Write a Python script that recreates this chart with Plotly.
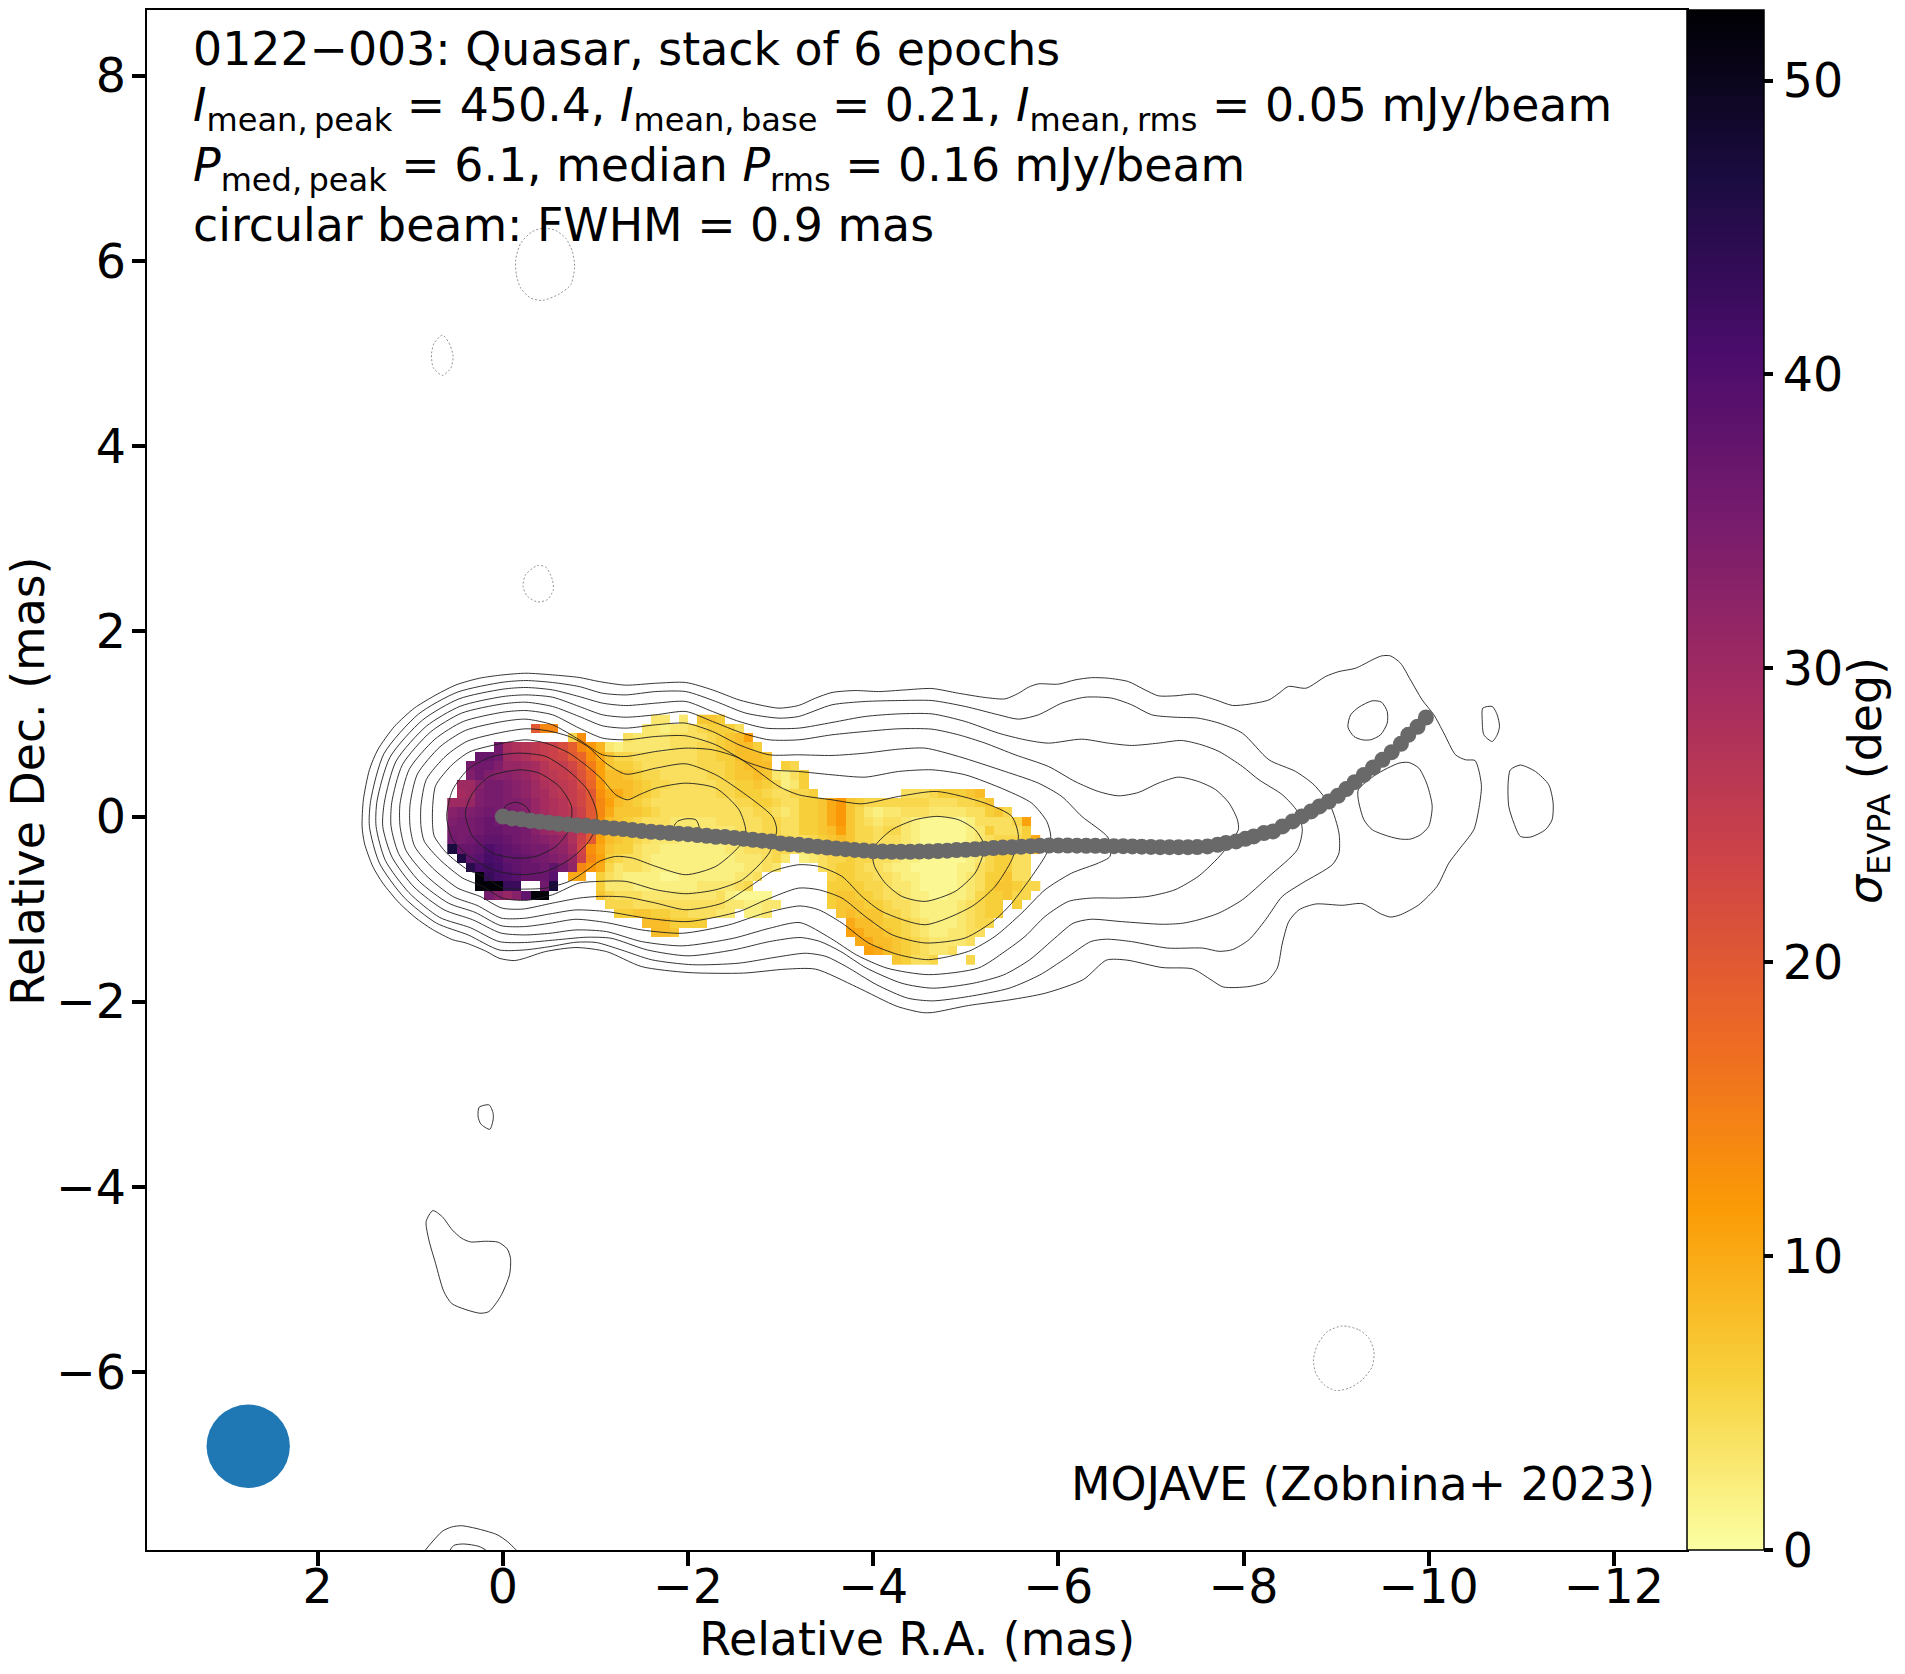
import plotly.graph_objects as go

# ---- sigma EVPA map, one dict per row: {first column: [values in deg]}
sigma_rows = [
    {22: [3, 3], 25: [3], 27: [7, 7, 6]},
    {9: [20, 14, 14], 21: [3, 3, 2, 3, 3, 4, 5, 6, 6, 6, 4]},
    {13: [5, 13], 19: [4, 3, 3, 3, 3, 4, 4, 4, 4, 5, 6, 7, 8, 11]},
    {5: [36, 29, 28, 27, 26, 25, 24, 22, 19, 14, 12, 9, 3, 2, 3, 3, 3, 3, 3, 4, 4, 4, 5, 5, 6, 7, 8, 8, 6]},
    {3: [37, 37, 36, 30, 29, 28, 26, 25, 24, 23, 20, 18, 13, 10, 7, 5, 5, 4, 4, 4, 4, 4, 4, 4, 5, 5, 6, 6, 8, 8, 8, 7]},
    {2: [35, 36, 36, 34, 31, 31, 30, 29, 27, 25, 25, 23, 20, 15, 11, 7, 6, 6, 5, 4, 4, 4, 4, 4, 4, 5, 5, 5, 6, 7, 8, 8, 8], 36: [6, 5]},
    {2: [34, 36, 34, 33, 33, 32, 31, 29, 27, 26, 25, 24, 21, 17, 11, 8, 8, 7, 6, 5, 5, 4, 4, 4, 4, 4, 5, 5, 6, 7, 7, 8, 7, 3, 2, 4, 6]},
    {1: [30, 30, 33, 35, 35, 34, 33, 32, 30, 28, 27, 26, 25, 22, 18, 12, 8, 8, 8, 7, 6, 5, 5, 4, 4, 4, 4, 4, 5, 5, 6, 6, 7, 6, 5, 2, 3, 6]},
    {1: [29, 30, 34, 35, 35, 34, 33, 32, 30, 29, 27, 26, 25, 23, 20, 13, 10, 10, 8, 7, 6, 5, 4, 4, 4, 4, 4, 4, 5, 5, 6, 6, 6, 5, 4, 4, 5, 5, 6],
     49: [4, 4, 4, 5, 6, 6, 6, 7, 8]},
    {0: [30, 30, 31, 34, 35, 35, 34, 34, 33, 31, 29, 28, 27, 25, 23, 20, 14,
         11, 8, 7, 6, 5, 4, 4, 4, 4, 4, 4, 4, 4, 4, 5, 5, 6, 6, 5, 4, 4,
         6, 6, 7, 10, 12, 7, 6, 5, 5, 5, 5, 5, 5, 5, 4, 4, 4, 5, 5, 6, 7]},
    {0: [33, 34, 34, 35, 36, 35, 35, 34, 33, 31, 29, 28, 27, 26, 24, 20, 14,
         10, 7, 7, 7, 6, 5, 4, 4, 4, 4, 4, 4, 4, 4, 4, 4, 5, 5, 4, 3, 4,
         6, 6, 7, 10, 12, 7, 5, 3, 2, 3, 3, 4, 4, 4, 3, 3, 3, 3, 4, 4, 6, 7, 5]},
    {0: [34, 35, 35, 36, 37, 36, 36, 35, 34, 32, 30, 29, 28, 27, 25, 20, 13,
         8, 7, 6, 5, 4, 4, 4, 3, 3, 3, 3, 3, 4, 4, 4, 4, 4, 5, 5, 4, 4,
         6, 6, 7, 10, 12, 7, 5, 4, 3, 4, 4, 3, 2, 1, 1, 1, 1, 1, 2, 4, 4, 4, 4, 5, 11]},
    {0: [35, 35, 35, 36, 37, 37, 36, 36, 35, 33, 31, 30, 29, 28, 25, 20, 12,
         8, 7, 6, 5, 4, 4, 3, 3, 3, 3, 3, 3, 3, 3, 4, 4, 4, 5, 5, 4, 4,
         6, 6, 7, 8, 11, 7, 5, 5, 4, 5, 5, 3, 2, 1, 1, 1, 1, 1, 2, 3, 6, 4, 4, 4, 6]},
    {0: [36, 35, 36, 37, 38, 38, 37, 36, 35, 34, 33, 32, 31, 28, 24, 20, 11,
         8, 7, 6, 5, 4, 3, 3, 3, 2, 2, 2, 2, 3, 3, 3, 4, 4, 4, 5, 5, 4,
         4, 5, 6, 7, 8, 7, 5, 5, 4, 4, 4, 3, 2, 1, 1, 1, 1, 1, 2, 3, 4, 5, 5, 5, 6, 10]},
    {0: [47, 37, 37, 38, 40, 39, 38, 37, 36, 35, 35, 33, 32, 29, 23, 13, 10,
         7, 6, 6, 4, 3, 3, 2, 2, 2, 2, 2, 2, 2, 3, 3, 4, 4, 4, 5, 5, 4,
         3, 4, 5, 6, 7, 7, 5, 5, 4, 4, 3, 2, 2, 1, 1, 1, 1, 1, 2, 3, 5, 5, 5, 4, 4, 8]},
    {1: [46, 38, 39, 41, 40, 38, 38, 37, 36, 35, 34, 33, 31, 24, 14, 11,
         6, 5, 4, 4, 3, 2, 2, 2, 2, 2, 2, 2, 2, 2, 3, 3, 3, 4, 5, 3],
     38: [2, 3, 4, 5, 5, 6, 5, 5, 4, 4, 3, 2, 2, 1, 1, 1, 1, 1, 2, 3, 5, 6, 6, 4, 4]},
    {2: [45, 41, 42, 41, 39, 38, 37, 37, 36, 38, 35, 32, 14, 12, 10,
         5, 3, 4, 4, 3, 2, 2, 2, 2, 2, 2, 2, 2, 2, 2, 3, 3, 4, 3],
     40: [4, 5, 6, 6, 5, 4, 4, 3, 2, 2, 1, 1, 1, 1, 1, 2, 2, 4, 5, 6, 6, 4, 4]},
    {3: [52, 43, 41, 40, 39, 37, 37, 37, 39], 13: [10, 10],
     16: [6, 4, 3, 2, 2, 2, 2, 1, 1, 2, 2, 2, 2, 2, 2, 3, 3, 4],
     41: [5, 6, 6, 5, 5, 4, 4, 3, 2, 2, 1, 1, 1, 1, 2, 3, 4, 6, 6, 7, 4, 4]},
    {3: [52, 52, 52, 43, 43], 10: [36, 47],
     16: [6, 3, 3, 3, 2, 2, 2, 2, 2, 2, 2, 3, 3, 3, 3, 4, 5],
     41: [6, 6, 6, 6, 5, 5, 4, 3, 3, 2, 1, 1, 1, 1, 2, 3, 4, 6, 7, 7, 6, 5, 5]},
    {4: [35, 33, 31, 33, 38, 52, 52],
     16: [7, 5, 4, 4, 4, 3, 3, 3, 3, 3, 3, 3, 3, 4, 2, 1, 1, 1, 1],
     41: [6, 7, 7, 6, 6, 5, 4, 4, 3, 2, 2, 1, 1, 2, 2, 3, 5, 6, 6, 7, 5, 5]},
    {17: [5, 5, 5, 4, 4, 4, 4, 4, 4, 4, 4, 4, 4, 3, 3, 2, 2, 3, 3],
     41: [6, 7, 7, 7, 6, 6, 5, 4, 4, 3, 2, 2, 2, 2, 3, 4, 5, 6, 6], 61: [6]},
    {18: [6, 6, 7, 7, 6, 6, 5, 5, 4, 4, 4, 3, 3], 32: [2, 2, 3],
     42: [7, 8, 7, 7, 7, 5, 5, 4, 3, 2, 2, 2, 2, 3, 4, 5, 6, 6]},
    {21: [8, 8, 8, 6, 6, 6, 6], 43: [10, 8, 8, 7, 6, 6, 5, 4, 3, 2, 2, 2, 3, 4, 5, 5]},
    {22: [8, 8, 7], 43: [11, 10, 8, 8, 7, 6, 5, 4, 3, 2, 2, 3, 3, 4, 4]},
    {44: [10, 10, 8, 8, 7, 6, 5, 4, 3, 3, 3, 3, 4]},
    {45: [11, 10, 8, 7, 6, 5, 4, 3, 3, 4]},
    {48: [7, 6, 4, 4, 5], 56: [5]},
]
map_ra = [0.55 - 0.1 * k for k in range(64)]
map_dec = [1.05 - 0.1 * j for j in range(27)]

# ---- total intensity contours (R.A., Dec.) in mas
level0 = [(0, 1.53), (-.249, 1.548), (-.537, 1.53), (-.825, 1.502), (-1.041, 1.458), (-1.328, 1.419), (-1.652, 1.44),
          (-1.976, 1.448), (-2.264, 1.368), (-2.551, 1.26), (-2.767, 1.207), (-2.983, 1.171), (-3.195, 1.2), (-3.375, 1.278),
          (-3.555, 1.34), (-3.806, 1.361), (-4.058, 1.35), (-4.346, 1.368), (-4.634, 1.383), (-4.92, 1.332), (-5.21, 1.286),
          (-5.425, 1.271), (-5.57, 1.332), (-5.677, 1.397), (-5.785, 1.433), (-6.0, 1.43), (-6.18, 1.476), (-6.36, 1.5),
          (-6.54, 1.494), (-6.756, 1.458), (-6.936, 1.368), (-7.08, 1.304), (-7.26, 1.304), (-7.476, 1.322), (-7.70, 1.26),
          (-7.88, 1.2), (-8.06, 1.214), (-8.275, 1.26), (-8.383, 1.332), (-8.484, 1.405), (-8.678, 1.387), (-8.887, 1.513),
          (-9.03, 1.566), (-9.21, 1.602), (-9.39, 1.692), (-9.49, 1.735), (-9.588, 1.735), (-9.696, 1.656), (-9.804, 1.475),
          (-9.93, 1.26), (-10.056, 1.099), (-10.164, .901), (-10.29, .667), (-10.398, .613), (-10.5, .606), (-10.54, .505),
          (-10.57, .325), (-10.54, .074), (-10.487, -.142), (-10.326, -.358), (-10.218, -.502), (-10.09, -.754), (-9.894, -.952),
          (-9.696, -1.06), (-9.588, -1.085), (-9.48, -1.049), (-9.283, -.94), (-9.067, -.958), (-8.78, -.944), (-8.6, -1.006),
          (-8.49, -1.131), (-8.42, -1.365), (-8.365, -1.635), (-8.25, -1.78), (-8.06, -1.835), (-7.78, -1.84), (-7.65, -1.763),
          (-7.45, -1.645), (-7.12, -1.63), (-6.74, -1.55), (-6.52, -1.55), (-6.27, -1.76), (-5.86, -1.907), (-5.47, -1.98),
          (-5.03, -2.04), (-4.64, -2.116), (-4.53, -2.116), (-4.26, -2.05), (-3.82, -1.84), (-3.38, -1.648), (-3.05, -1.648),
          (-2.6, -1.69), (-2.0, -1.684), (-1.5, -1.62), (-1.12, -1.458), (-.79, -1.414), (-.46, -1.458), (-.235, -1.53),
          (-.125, -1.555), (.04, -1.53), (.18, -1.455), (.398, -1.365), (.542, -1.33), (.758, -1.22), (.938, -1.096),
          (1.118, -.934), (1.297, -.718), (1.405, -.538), (1.495, -.286), (1.52, -.106), (1.506, .181), (1.441, .505),
          (1.351, .721), (1.171, .973), (.956, 1.171), (.722, 1.314), (.506, 1.422), (.254, 1.494)]
level1 = [(0, 1.451), (-.249, 1.469), (-.537, 1.448), (-.825, 1.404), (-1.077, 1.332), (-1.328, 1.314), (-1.652, 1.35),
          (-1.976, 1.35), (-2.3, 1.243), (-2.624, 1.117), (-2.983, 1.063), (-3.195, 1.081), (-3.555, 1.207), (-3.914, 1.243),
          (-4.274, 1.253), (-4.634, 1.253), (-4.994, 1.189), (-5.353, 1.099), (-5.569, 1.052), (-5.785, 1.099), (-6.037, 1.225),
          (-6.288, 1.289), (-6.576, 1.279), (-6.792, 1.207), (-7.008, 1.099), (-7.26, 1.073), (-7.51, 1.063), (-7.736, 1.009),
          (-7.988, .901), (-8.275, .613), (-8.563, .487), (-8.761, .343), (-8.941, .11), (-9.031, -.178), (-9.031, -.394),
          (-8.959, -.52), (-8.635, -.718), (-8.419, -.862), (-8.239, -1.113), (-8.06, -1.329), (-7.88, -1.437), (-7.736, -1.455),
          (-7.56, -1.42), (-7.18, -1.42), (-6.79, -1.35), (-6.52, -1.324), (-6.35, -1.35), (-6.08, -1.53), (-5.8, -1.71),
          (-5.47, -1.853), (-5.03, -1.943), (-4.64, -1.99), (-4.37, -1.96), (-4.04, -1.817), (-3.71, -1.62), (-3.49, -1.51),
          (-3.27, -1.476), (-2.94, -1.52), (-2.55, -1.583), (-2.05, -1.6), (-1.61, -1.547), (-1.28, -1.44), (-1.01, -1.36),
          (-.79, -1.357), (-.51, -1.404), (-.235, -1.44), (.04, -1.44), (.373, -1.279), (.718, -1.15), (1.064, -.876),
          (1.333, -.502), (1.441, -.106), (1.427, .174), (1.283, .681), (.912, 1.106), (.492, 1.343)]
level2 = [(0, 1.376), (-.249, 1.394), (-.537, 1.368), (-.825, 1.296), (-1.077, 1.225), (-1.328, 1.199), (-1.652, 1.225),
          (-1.976, 1.243), (-2.264, 1.135), (-2.551, 1.027), (-2.84, .955), (-3.195, .955), (-3.555, 1.016), (-3.914, 1.081),
          (-4.274, 1.109), (-4.634, 1.109), (-4.994, 1.027), (-5.353, .901), (-5.641, .829), (-5.893, .793), (-6.253, .836),
          (-6.54, .793), (-6.792, .768), (-7.08, .793), (-7.33, .822), (-7.547, .775), (-7.736, .703), (-7.988, .541),
          (-8.167, .397), (-8.419, .236), (-8.581, .056), (-8.635, -.142), (-8.581, -.358), (-8.275, -.646), (-7.988, -.898),
          (-7.736, -1.041), (-7.52, -1.113), (-7.34, -1.152), (-7.12, -1.163), (-6.68, -1.134), (-6.35, -1.109), (-6.16, -1.152),
          (-5.94, -1.332), (-5.69, -1.547), (-5.41, -1.709), (-5.08, -1.8), (-4.64, -1.853), (-4.31, -1.8), (-3.93, -1.637),
          (-3.65, -1.458), (-3.43, -1.35), (-3.21, -1.306), (-2.88, -1.35), (-2.49, -1.44), (-2.0, -1.504), (-1.56, -1.44),
          (-1.17, -1.314), (-.9, -1.303), (-.57, -1.332), (-.235, -1.36), (.04, -1.35), (.351, -1.2), (.682, -1.089),
          (1.013, -.822), (1.269, -.473), (1.369, -.106), (1.359, .167), (1.218, .642), (.869, 1.041), (.474, 1.271)]
level3 = [(0, 1.296), (-.249, 1.314), (-.537, 1.289), (-.825, 1.189), (-1.077, 1.099), (-1.328, 1.073), (-1.652, 1.099),
          (-1.976, 1.135), (-2.264, 1.027), (-2.588, .901), (-2.876, .829), (-3.195, .829), (-3.555, .883), (-3.914, .919),
          (-4.274, .948), (-4.634, .944), (-4.922, .883), (-5.209, .793), (-5.533, .667), (-5.893, .541), (-6.18, .379),
          (-6.432, .271), (-6.648, .224), (-6.864, .26), (-7.08, .361), (-7.296, .426), (-7.512, .379), (-7.7, .29),
          (-7.844, .146), (-7.934, -.034), (-7.944, -.142), (-7.772, -.394), (-7.52, -.639), (-7.26, -.79), (-6.97, -.862),
          (-6.648, -.88), (-6.36, -.88), (-6.11, -.916), (-5.857, -1.078), (-5.64, -1.294), (-5.425, -1.455), (-5.137, -1.635),
          (-4.598, -1.707), (-4.15, -1.637), (-3.82, -1.494), (-3.54, -1.314), (-3.21, -1.145), (-2.88, -1.206), (-2.49, -1.314),
          (-1.94, -1.396), (-1.5, -1.35), (-1.12, -1.242), (-.79, -1.224), (-.51, -1.26), (-.235, -1.278), (.024, -1.257),
          (.326, -1.114), (.636, -1.006), (.959, -.761), (1.197, -.437), (1.297, -.106), (1.279, .156), (1.153, .599),
          (.826, .976), (.459, 1.192)]
level4 = [(0, 1.217), (-.249, 1.235), (-.537, 1.189), (-.825, 1.081), (-1.077, .98), (-1.328, .955), (-1.652, .991),
          (-1.976, 1.009), (-2.264, .919), (-2.551, .775), (-2.876, .667), (-3.195, .667), (-3.555, .66), (-3.914, .685),
          (-4.274, .728), (-4.562, .739), (-4.922, .649), (-5.425, .487), (-5.785, .361), (-6.037, .217), (-6.253, .002),
          (-6.54, -.232), (-6.558, -.43), (-6.432, -.502), (-6.145, -.61), (-5.857, -.79), (-5.605, -1.042), (-5.317, -1.293),
          (-5.03, -1.455), (-4.598, -1.545), (-4.274, -1.491), (-3.95, -1.365), (-3.663, -1.15), (-3.411, -1.006), (-3.21, -.965),
          (-2.825, -1.044), (-2.44, -1.17), (-1.94, -1.26), (-1.5, -1.224), (-1.12, -1.145), (-.79, -1.109), (-.51, -1.152),
          (-.235, -1.188), (.02, -1.178), (.301, -1.034), (.589, -.934), (.902, -.7), (1.125, -.401), (1.207, -.106), (1.2, .149),
          (1.085, .559), (.783, .912), (.445, 1.117)]
level5 = [(0, 1.127), (-.249, 1.145), (-.537, 1.099), (-.825, .955), (-1.077, .847), (-1.328, .829), (-1.652, .865),
          (-1.976, .872), (-2.3, .775), (-2.624, .595), (-2.911, .505), (-3.195, .487), (-3.555, .451), (-3.914, .426),
          (-4.274, .487), (-4.634, .505), (-4.994, .451), (-5.425, .289), (-5.713, .145), (-5.875, -.052), (-5.918, -.214),
          (-5.875, -.394), (-5.713, -.646), (-5.497, -.934), (-5.317, -1.114), (-4.994, -1.311), (-4.562, -1.365), (-4.202, -1.275),
          (-3.914, -1.078), (-3.663, -.88), (-3.411, -.79), (-3.195, -.772), (-2.84, -.9), (-2.55, -1.026), (-2.0, -1.134),
          (-1.56, -1.098), (-1.12, -1.026), (-.79, -1.008), (-.51, -1.051), (-.235, -1.098), (.017, -1.096), (.279, -.959),
          (.542, -.862), (.837, -.628), (1.046, -.365), (1.11, -.106), (1.11, .142), (1.01, .512), (.733, .836), (.427, 1.027)]
level6 = [(0, 1.027), (-.249, 1.052), (-.537, .991), (-.825, .829), (-1.077, .667), (-1.328, .649), (-1.652, .703),
          (-1.976, .739), (-2.264, .721), (-2.551, .631), (-2.983, .325), (-3.195, .235), (-3.555, .181), (-3.878, .138),
          (-4.274, .217), (-4.688, .271), (-5.209, .145), (-5.497, .002), (-5.569, -.214), (-5.497, -.466), (-5.317, -.754),
          (-5.066, -.97), (-4.562, -1.168), (-4.094, -1.024), (-3.878, -.862), (-3.663, -.646), (-3.411, -.538), (-3.195, -.52),
          (-2.911, -.592), (-2.696, -.736), (-2.372, -.934), (-1.976, -1.006), (-1.652, -.934), (-1.328, -.869), (-1.041, -.862),
          (-.825, -.88), (-.537, -.934), (-.213, -.999), (.01, -.988), (.247, -.862), (.488, -.772), (.758, -.556), (.952, -.322),
          (1.002, -.106), (1.002, .131), (.923, .458), (.679, .753), (.405, .93)]
level7 = [(0, .912), (-.249, .948), (-.465, .93), (-.717, .865), (-.915, .757), (-1.113, .577), (-1.328, .458), (-1.652, .523),
          (-1.976, .57), (-2.3, .451), (-2.551, .289), (-2.911, .002), (-2.958, -.142), (-2.876, -.394), (-2.588, -.682),
          (-2.3, -.79), (-1.976, -.833), (-1.652, -.79), (-1.328, -.7), (-1.041, -.7), (-.825, -.718), (-.537, -.844),
          (-.249, -.905), (.006, -.88), (.218, -.754), (.434, -.664), (.679, -.466), (.848, -.268), (.884, -.106), (.884, .12),
          (.826, .401), (.614, .656), (.384, .814)]
level7_east = [(-4.688, .002), (-4.922, -.034), (-5.101, -.142), (-5.191, -.286), (-5.191, -.394), (-5.101, -.61), (-4.886, -.808),
               (-4.562, -.916), (-4.31, -.862), (-4.13, -.718), (-4.015, -.538), (-3.994, -.43), (-4.03, -.304), (-4.202, -.142),
               (-4.454, -.034)]
level8 = [(0, .793), (-.249, .829), (-.465, .793), (-.717, .685), (-.915, .541), (-1.077, .397), (-1.221, .235), (-1.347, .181),
          (-1.472, .235), (-1.652, .307), (-1.976, .361), (-2.3, .307), (-2.551, .073), (-2.624, -.16), (-2.551, -.322),
          (-2.3, -.538), (-1.976, -.628), (-1.652, -.538), (-1.401, -.448), (-1.221, -.43), (-1.041, -.484), (-.915, -.574),
          (-.717, -.7), (-.465, -.772), (-.249, -.783), (0, -.772), (.19, -.653), (.38, -.574), (.607, -.394), (.74, -.214),
          (.758, -.106), (.758, .109), (.725, .336), (.549, .559), (.359, .699)]
level9 = [(-.177, .685), (-.465, .649), (-.717, .487), (-.915, .289), (-1.012, .055), (-1.012, -.106), (-.915, -.286),
          (-.717, -.466), (-.465, -.592), (-.177, -.628), (.11, -.574), (.362, -.43), (.542, -.25), (.607, .002), (.542, .289),
          (.362, .523), (.11, .649)]
level9_east = [(-1.85, -.106), (-1.886, -.052), (-1.976, -.024), (-2.084, -.034), (-2.12, -.124), (-2.012, -.196), (-1.904, -.178)]
level10 = [(-.177, .505), (-.393, .469), (-.609, .325), (-.742, .109), (-.717, -.142), (-.573, -.322), (-.357, -.43),
           (-.141, -.448), (.11, -.394), (.326, -.214), (.405, .037), (.326, .253), (.146, .433)]
level11 = [(-.023, .109), (-.141, .156), (-.249, .109), (-.293, .037), (-.249, -.052), (-.105, -.07), (0, -.016)]

hole_a = [(-9.39, 1.25), (-9.49, 1.236), (-9.552, 1.135), (-9.552, 1.009), (-9.48, .883), (-9.372, .829), (-9.283, .829),
          (-9.193, .865), (-9.128, .966), (-9.157, 1.099), (-9.247, 1.182)]
hole_b = [(-9.786, .584), (-9.894, .523), (-9.984, .343), (-10.038, .11), (-10.0, -.106), (-9.912, -.196), (-9.804, -.243),
          (-9.696, -.243), (-9.57, -.214), (-9.39, -.142), (-9.3, -.034), (-9.24, .182), (-9.24, .29), (-9.427, .451), (-9.678, .577)]
island_c = [(-10.585, 1.171), (-10.686, 1.189), (-10.74, 1.099), (-10.765, .973), (-10.74, .883), (-10.686, .811), (-10.596, .883),
            (-10.578, 1.045)]
island_d = [(-10.99, .556), (-11.153, .487), (-11.297, .343), (-11.344, .146), (-11.333, -.034), (-11.26, -.142), (-11.1, -.221),
            (-10.99, -.214), (-10.92, -.07), (-10.865, .11), (-10.858, .361), (-10.883, .505)]
island_e = [(.756, -4.255), (.655, -4.32), (.547, -4.463), (.446, -4.553), (.349, -4.593), (.187, -4.586), (.05, -4.596),
            (-.047, -4.668), (-.083, -4.769), (-.072, -4.949), (.025, -5.183), (.151, -5.345), (.248, -5.363), (.547, -5.262),
            (.637, -5.129), (.727, -4.823), (.799, -4.571), (.828, -4.373)]
island_f = [(.256, -3.139), (.148, -3.114), (.105, -3.204), (.105, -3.276), (.141, -3.377), (.238, -3.319), (.267, -3.24)]
edge_low0 = [(.853, -7.94), (.655, -7.719), (.554, -7.672), (.446, -7.658), (.259, -7.694), (.061, -7.755), (-.047, -7.827), (-.165, -7.94)]
edge_low1 = [(.583, -7.94), (.529, -7.87), (.421, -7.855), (.259, -7.881), (.151, -7.94)]

neg_top = [(-.445, 6.354), (-.571, 6.329), (-.679, 6.246), (-.751, 6.102), (-.776, 5.94), (-.733, 5.743), (-.607, 5.642),
           (-.427, 5.574), (-.301, 5.599), (-.193, 5.707), (-.146, 5.851), (-.139, 6.012), (-.193, 6.192), (-.319, 6.318)]
neg_left = [(.652, 5.199), (.58, 5.113), (.537, 4.969), (.562, 4.843), (.652, 4.764), (.749, 4.843), (.771, 4.987), (.742, 5.113)]
neg_mid = [(-.373, 2.71), (-.463, 2.696), (-.535, 2.559), (-.546, 2.451), (-.481, 2.343), (-.373, 2.318), (-.265, 2.379),
           (-.218, 2.487), (-.247, 2.613)]
neg_low = [(-9.068, -5.5), (-9.248, -5.543), (-9.355, -5.633), (-9.409, -5.777), (-9.391, -5.938), (-9.283, -6.082), (-9.14, -6.172),
           (-8.996, -6.198), (-8.87, -6.136), (-8.78, -6.01), (-8.755, -5.867), (-8.798, -5.705), (-8.906, -5.561)]

# ---- jet ridge line
ridge_ra = [0, -.1, -.2, -.3, -.4, -.5, -.6, -.7, -.8, -.9, -1.0, -1.1, -1.2, -1.3, -1.4, -1.5, -1.6, -1.7, -1.8, -1.9,
            -2.0, -2.1, -2.2, -2.3, -2.4, -2.5, -2.6, -2.7, -2.8, -2.9, -3.0, -3.1, -3.2, -3.3, -3.4, -3.5, -3.6, -3.7, -3.8, -3.9,
            -4.0, -4.1, -4.2, -4.3, -4.4, -4.5, -4.6, -4.7, -4.8, -4.9, -5.0, -5.1, -5.2, -5.3, -5.4, -5.5, -5.6, -5.7, -5.8, -5.9,
            -6.0, -6.1, -6.2, -6.3, -6.4, -6.5, -6.6, -6.7, -6.8, -6.9, -7.0, -7.1, -7.2, -7.3, -7.4, -7.5, -7.61, -7.72, -7.81, -7.92,
            -8.02, -8.11, -8.22, -8.32, -8.42, -8.53, -8.63, -8.73, -8.82, -8.92, -9.02, -9.11, -9.2, -9.3, -9.4, -9.5, -9.6, -9.7, -9.78, -9.88, -9.97]
ridge_dec = [0, -.02, -.03, -.045, -.056, -.066, -.078, -.085, -.095, -.1, -.11, -.12, -.128, -.135, -.146, -.157, -.164, -.171, -.178, -.185,
             -.19, -.2, -.207, -.218, -.22, -.23, -.24, -.25, -.26, -.27, -.29, -.3, -.305, -.315, -.325, -.335, -.345, -.352, -.36, -.367,
             -.375, -.378, -.38, -.38, -.38, -.378, -.376, -.372, -.368, -.362, -.358, -.353, -.347, -.34, -.335, -.33, -.325, -.32, -.315, -.312,
             -.312, -.312, -.314, -.315, -.316, -.318, -.32, -.32, -.322, -.325, -.328, -.33, -.33, -.33, -.33, -.329, -.322, -.304, -.286, -.268,
             -.24, -.214, -.178, -.16, -.106, -.052, .002, .056, .11, .163, .225, .297, .372, .45, .53, .613, .696, .786, .883, .97, 1.07]

beam_ra, beam_dec, beam_fwhm = 2.75, -6.8, 0.9

solid_contours = [level0, level1, level2, level3, level4, level5, level6, level7, level7_east, level8, level9, level9_east,
                  level10, level11, hole_a, hole_b, island_c, island_d, island_e, island_f]
open_contours = [edge_low0, edge_low1]
negative_contours = [neg_top, neg_left, neg_mid, neg_low]

header_lines = ["0122\u2212003: Quasar, stack of 6 epochs",
                "<i>I</i><sub>mean,\u2009peak</sub> = 450.4, <i>I</i><sub>mean,\u2009base</sub> = 0.21, <i>I</i><sub>mean,\u2009rms</sub> = 0.05 mJy/beam",
                "<i>P</i><sub>med,\u2009peak</sub> = 6.1, median <i>P</i><sub>rms</sub> = 0.16 mJy/beam",
                "circular beam: FWHM = 0.9 mas"]
header_dec = [8.285, 7.645, 7.0, 6.39]

FONT = "DejaVu Sans"
FS = 45.8
TICK_FS = 47.5

# page has an 8 px body margin, hence the odd numbers here
W, H = 1889, 1658
dom_x = [139.3 / W, 1679 / W]
dom_y = [(H - 1542) / H, (H - 2) / H]

fig = go.Figure()

z = []
for row in sigma_rows:
    cells = [None] * len(map_ra)
    for start, vals in row.items():
        cells[start:start + len(vals)] = vals
    z.append(cells)

fig.add_trace(go.Heatmap(x=map_ra, y=map_dec, z=z, zmin=0, zmax=52.4, colorscale="Inferno_r", hoverongaps=False,
                         colorbar=dict(x=dom_x[1], xanchor="left", xpad=0, y=dom_y[0], yanchor="bottom", ypad=0,
                                       len=dom_y[1] - dom_y[0], lenmode="fraction", thickness=77, thicknessmode="pixels",
                                       outlinewidth=1.5, outlinecolor="black", tick0=0, dtick=10, ticks="outside",
                                       ticklen=9, tickwidth=3.5, tickcolor="black", tickfont=dict(family=FONT, size=TICK_FS))))


def draw_contour(pts, closed=True, **line_kwargs):
    if closed:
        pts = pts + pts[:1]
    fig.add_trace(go.Scatter(x=[p[0] for p in pts], y=[p[1] for p in pts], mode="lines", line=line_kwargs,
                             hoverinfo="skip", showlegend=False))


for c in solid_contours:
    draw_contour(c, color="rgb(30,30,30)", width=0.9, shape="spline", smoothing=0.7)
for c in open_contours:
    draw_contour(c, closed=False, color="rgb(30,30,30)", width=0.9, shape="spline", smoothing=0.7)
for c in negative_contours:
    draw_contour(c, color="rgb(120,120,120)", width=0.8, shape="spline", smoothing=0.7, dash="2px,2px")

fig.add_trace(go.Scatter(x=ridge_ra, y=ridge_dec, mode="markers", marker=dict(size=16, color="#696969", line=dict(width=0)),
                         showlegend=False))

# restoring beam
fig.add_shape(type="circle", xref="x", yref="y", x0=beam_ra - beam_fwhm / 2, x1=beam_ra + beam_fwhm / 2,
              y0=beam_dec - beam_fwhm / 2, y1=beam_dec + beam_fwhm / 2, fillcolor="#1f77b4", line=dict(width=0))

for txt, dec in zip(header_lines, header_dec):
    fig.add_annotation(text=txt, x=3.37, y=dec, xanchor="left", yanchor="middle", showarrow=False,
                       font=dict(family=FONT, size=FS, color="black"))
fig.add_annotation(text="MOJAVE (Zobnina+ 2023)", x=-12.466, y=-7.21, xanchor="right", yanchor="middle", showarrow=False,
                   font=dict(family=FONT, size=FS, color="black"))

# colorbar and y labels placed by hand, the built-in titles sit in the wrong spot without automargin
fig.add_annotation(text="<i>\u03c3</i><sub>EVPA</sub> (deg)", xref="paper", yref="paper", x=0.9849, y=0.534,
                   xanchor="center", yanchor="middle", textangle=-90, showarrow=False,
                   font=dict(family=FONT, size=FS, color="black"))
fig.add_annotation(text="Relative Dec. (mas)", xref="paper", yref="paper", x=0.0105, y=0.5338,
                   xanchor="center", yanchor="middle", textangle=-90, showarrow=False,
                   font=dict(family=FONT, size=FS, color="black"))

axis_kwargs = dict(showgrid=False, zeroline=False, showline=True, mirror=True, linecolor="black", linewidth=1.5,
                   ticks="outside", ticklen=14, tickwidth=3.5, tickcolor="black", dtick=2,
                   tickfont=dict(family=FONT, size=TICK_FS), automargin=False)
fig.update_layout(width=W, height=H, margin=dict(l=0, r=0, t=0, b=0, autoexpand=False), plot_bgcolor="white", paper_bgcolor="white",
                  showlegend=False, font=dict(family=FONT, color="black"),
                  xaxis=dict(domain=dom_x, range=[3.84, -12.79], ticklabelstandoff=-20,
                             title=dict(text="Relative R.A. (mas)", font=dict(family=FONT, size=FS), standoff=30), **axis_kwargs),
                  yaxis=dict(domain=dom_y, range=[-7.92, 8.71], ticklabelstandoff=-4, **axis_kwargs))

fig.write_html("out.html")
